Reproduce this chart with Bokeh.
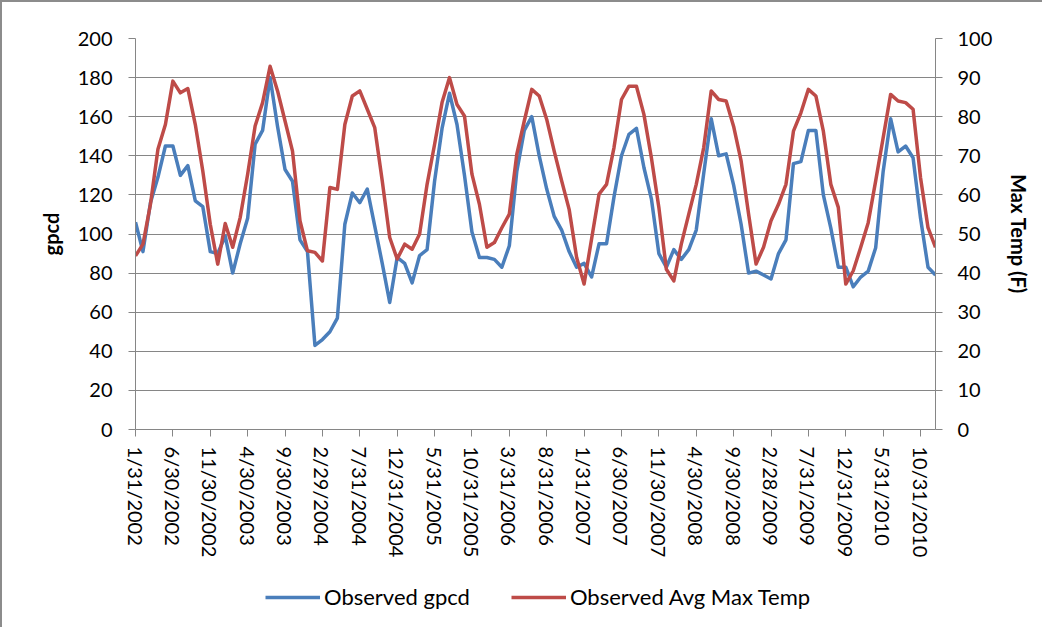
from bokeh.plotting import figure
from bokeh.layouts import column
from bokeh.models import (Range1d, LinearAxis, FixedTicker, Legend, LegendItem)
from bokeh.embed import file_html
from bokeh.resources import INLINE

# ---- data (monthly, 1/31/2002 .. 12/31/2010) ----
month_index = list(range(108))

gpcd = [106, 91, 116, 129, 145, 145, 130, 135, 117, 114,
        91, 90, 99, 80, 95, 108, 146, 153, 180, 155,
        133, 127, 97, 91, 43, 46, 50, 57, 105, 121,
        116, 123, 104, 85, 65, 88, 85, 75, 89, 92,
        127, 154, 172, 156, 130, 101, 88, 88, 87, 83,
        94, 132, 153, 160, 140, 123, 109, 102, 91, 83,
        85, 78, 95, 95, 119, 140, 151, 154, 134, 118,
        90, 83, 92, 87, 92, 102, 131, 159, 140, 141,
        125, 105, 80, 81, 79, 77, 90, 97, 136, 137,
        153, 153, 120, 103, 83, 83, 73, 78, 81, 93,
        132, 159, 142, 145, 139, 108, 83, 79]

avg_max_temp = [44.4, 47.4, 57.6, 71.7, 78.0, 89.1, 86.1, 87.2, 78.0, 66.1,
                52.5, 42.3, 52.7, 46.6, 54.2, 65.3, 77.6, 83.6, 92.9, 86.6,
                78.9, 71.2, 53.4, 45.7, 45.3, 43.1, 61.9, 61.4, 78.0, 85.3,
                86.6, 81.9, 77.2, 63.6, 49.1, 43.6, 47.4, 46.1, 50.0, 62.7,
                72.9, 83.6, 90.0, 83.1, 80.2, 65.3, 57.6, 46.6, 47.8, 51.6,
                55.1, 70.4, 78.9, 87.0, 85.3, 79.3, 71.2, 63.6, 56.3, 44.0,
                37.2, 48.7, 60.2, 62.7, 72.1, 84.4, 87.8, 87.8, 80.6, 69.5,
                56.8, 41.0, 38.0, 47.4, 55.1, 62.7, 72.1, 86.6, 84.4, 84.0,
                77.5, 68.7, 55.1, 42.3, 46.6, 53.4, 57.6, 62.7, 76.3, 81.0,
                87.0, 85.3, 76.3, 62.7, 56.8, 37.2, 40.6, 46.6, 52.9, 63.6,
                74.6, 85.7, 84.0, 83.6, 81.9, 64.4, 51.6, 46.6]

tick_positions = [0, 5, 10, 15, 20, 25, 30, 35, 40, 45, 50,
                  55, 60, 65, 70, 75, 80, 85, 90, 95, 100, 105]
tick_labels = ["1/31/2002", "6/30/2002", "11/30/2002", "4/30/2003", "9/30/2003",
               "2/29/2004", "7/31/2004", "12/31/2004", "5/31/2005", "10/31/2005",
               "3/31/2006", "8/31/2006", "1/31/2007", "6/30/2007", "11/30/2007",
               "4/30/2008", "9/30/2008", "2/28/2009", "7/31/2009", "12/31/2009",
               "5/31/2010", "10/31/2010"]

series_names = ["Observed gpcd", "Observed Avg Max Temp"]
left_label = "gpcd"
right_label = "Max Temp (F)"

# ---- styling ----
FONT = "Lato"
GRAY = "#868686"
BLUE = "#4A7EBB"
RED = "#BE4B48"
LW = 3.5

W, H1, H2 = 1040, 560, 65
FL, FR, FT, FB = 133, 933, 36, 427   # frame edges inside the main figure
p = figure(width=W, height=H1, output_backend="svg", toolbar_location=None,
           x_range=Range1d(0, 107), y_range=Range1d(0, 200),
           min_border_left=FL, min_border_right=W - FR,
           min_border_top=FT, min_border_bottom=H1 - FB)
p.outline_line_color = None
p.background_fill_color = "white"
p.border_fill_color = "white"

p.extra_y_ranges = {"temp": Range1d(0, 100)}

# lines
r1 = p.line(month_index, gpcd, line_color=BLUE, line_width=LW, line_join="round")
r2 = p.line(month_index, avg_max_temp, line_color=RED, line_width=LW,
            line_join="round", y_range_name="temp")

# grid
p.xgrid.visible = False
p.ygrid.grid_line_color = GRAY
p.ygrid.grid_line_width = 1
p.ygrid.ticker = FixedTicker(ticks=list(range(0, 201, 20)))

# x axis
xa = p.xaxis[0]
xa.ticker = FixedTicker(ticks=tick_positions)
xa.major_label_overrides = {t: l for t, l in zip(tick_positions, tick_labels)}
xa.major_label_orientation = "vertical"

# left y axis
ya = p.yaxis[0]
ya.ticker = FixedTicker(ticks=list(range(0, 201, 20)))
ya.axis_label = left_label

# right y axis
ra = LinearAxis(y_range_name="temp", ticker=FixedTicker(ticks=list(range(0, 101, 10))),
                axis_label=right_label)
p.add_layout(ra, "right")

for ax in [xa, ya, ra]:
    ax.axis_line_color = GRAY
    ax.major_tick_line_color = GRAY
    ax.minor_tick_line_color = None
    ax.major_tick_in = 0
    ax.major_tick_out = 7
    ax.major_label_text_font = FONT
    ax.major_label_text_font_size = "20px"
    ax.major_label_text_color = "black"
    ax.axis_label_text_font = FONT
    ax.axis_label_text_font_size = "20px"
    ax.axis_label_text_font_style = "bold"
    ax.axis_label_text_color = "black"
    ax.axis_label_standoff = 12
ya.major_label_standoff = 16
ra.major_label_standoff = 15
xa.major_label_standoff = 10

# ---- legend strip below the chart ----
# the strip's y-range lies below every data value, so its lines stay hidden
lg = figure(width=W, height=H2, output_backend="svg", toolbar_location=None,
            x_range=Range1d(0, 107), y_range=Range1d(-2, -1),
            x_axis_location=None, y_axis_location=None,
            min_border=0, min_border_left=0, min_border_right=0,
            min_border_top=0, min_border_bottom=0)
lg.outline_line_color = None
lg.grid.visible = False
lg.extra_y_ranges = {"temp": Range1d(-2, -1)}
g1 = lg.line(month_index, gpcd, line_color=BLUE, line_width=LW)
g2 = lg.line(month_index, avg_max_temp, line_color=RED, line_width=LW,
             y_range_name="temp")
legend = Legend(items=[LegendItem(label=series_names[0], renderers=[g1]),
                       LegendItem(label=series_names[1], renderers=[g2])],
                location=(130, 17), orientation="horizontal",
                glyph_width=55, glyph_height=20, label_standoff=4, spacing=41,
                padding=0, margin=0, border_line_color=None,
                background_fill_alpha=0,
                label_text_font=FONT, label_text_font_size="22px",
                label_text_color="black")
lg.add_layout(legend)

layout = column(p, lg, spacing=0,
                styles={"border-top": "2px solid #8c8c8c",
                        "border-left": "2px solid #8c8c8c"})

open("out.html", "w").write(file_html(layout, INLINE))
